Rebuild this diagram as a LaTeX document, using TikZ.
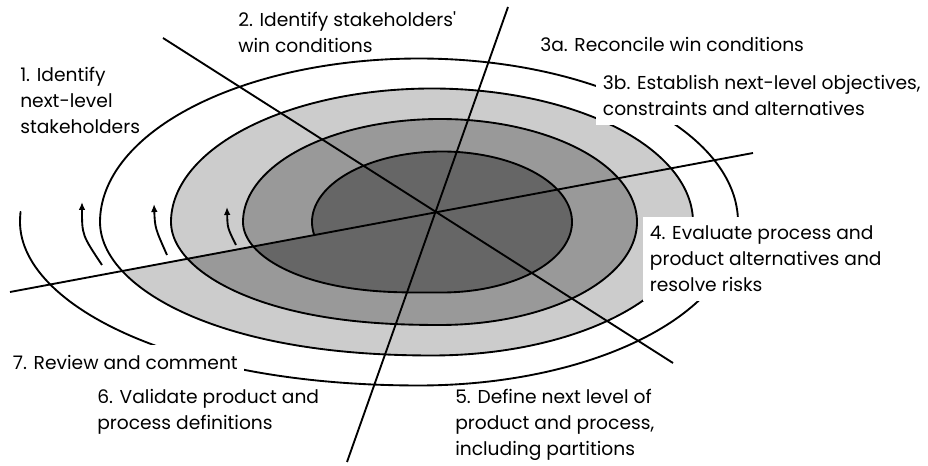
\documentclass[tikz,border=0pt]{standalone}
\usepackage{fontspec}
\setmainfont{Poppins}
\usetikzlibrary{arrows.meta}

\tikzset{
  declare function={
    lin(\ang,\idx)=min(1,max(0,(\ang-360*\idx+90)/90));
    rmp(\ang,\idx)=lin(\ang,\idx)*lin(\ang,\idx)*(3-2*lin(\ang,\idx));
    spx(\ang)=442-2*rmp(\ang,1)-8*rmp(\ang,2)-13*rmp(\ang,3)-14*rmp(\ang,4)+(130+67*rmp(\ang,1)+64*rmp(\ang,2)+58*rmp(\ang,3)+66*rmp(\ang,4))*cos(\ang+180);
    spy(\ang)=222+(70.5+32.5*rmp(\ang,1)+30.5*rmp(\ang,2)+30*rmp(\ang,3)+30.5*rmp(\ang,4))*sin(\ang+180);
  },
  lbl/.style={align=left, inner sep=0pt, font=\fontsize{14}{19.5}\selectfont},
  whitebox/.style={lbl, fill=white, inner xsep=5pt, inner ysep=7pt},
  flow/.style={line width=1.4pt, -{Latex[length=6pt,width=5pt]}},
}

\begin{document}
\begin{tikzpicture}[x=0.75pt, y=-0.75pt]
    \useasboundingbox (0,0) rectangle (928,466);

    % 螺旋的三层填充
    \fill[gray!40] plot[domain=704:1062.3, samples=300] ({spx(\x)},{spy(\x)}) -- cycle;
    \fill[gray!80] plot[domain=346.3:704, samples=300] ({spx(\x)},{spy(\x)}) -- cycle;
    \fill[black!60] plot[domain=-10.8:346.3, samples=300] ({spx(\x)},{spy(\x)}) -- cycle;

    % 螺旋线，一圈一圈画
    \foreach \lo/\hi in {-10.8/346.3, 346.3/704, 704/1062.3, 1062.3/1443}
        \draw[line width=1.4pt, line cap=round] plot[domain=\lo:\hi, samples=300] ({spx(\x)},{spy(\x)});

    % 左侧的箭头
    \draw[flow] (102,265) .. controls (82,235) .. (82,202);
    \draw[flow] (167,255) .. controls (155,228) .. (154,204);
    \draw[flow] (236,245) .. controls (227.5,228) .. (227,207);

    % 三条分隔线
    \coordinate (diagA) at (163,38);
    \coordinate (diagB) at (673,363);
    \coordinate (steepA) at (508,7);
    \coordinate (steepB) at (347,462);
    \coordinate (flatA) at (10,292);
    \coordinate (flatB) at (753,153);
    \draw[line width=1.4pt] (diagA) -- (diagB);
    \draw[line width=1.4pt] (steepA) -- (steepB);
    \draw[line width=1.4pt] (flatA) -- (flatB);

    % 各步骤的文字
    \node[lbl, anchor=west] (identify) at (20,100) {1. Identify\\next-level\\stakeholders};
    \node[lbl, anchor=west] (wincond) at (238,32) {2. Identify stakeholders\textquotesingle\\win conditions};
    \node[lbl, anchor=west] (reconcile) at (540,44) {3a. Reconcile win conditions};
    \node[whitebox, anchor=west] (establish) at (596,95) {3b. Establish next-level objectives,\\constraints and alternatives};
    \node[whitebox, anchor=west] (evaluate) at (643,259) {4. Evaluate process and\\product alternatives and\\resolve risks};
    \node[lbl, anchor=west] (define) at (455,425) {5. Define next level of\\product and process,\\including partitions};
    \node[lbl, anchor=west] (validate) at (97,412) {6. Validate product and\\process definitions};
    \node[whitebox, anchor=west] (review) at (6,362) {7. Review and comment};
\end{tikzpicture}
\end{document}
